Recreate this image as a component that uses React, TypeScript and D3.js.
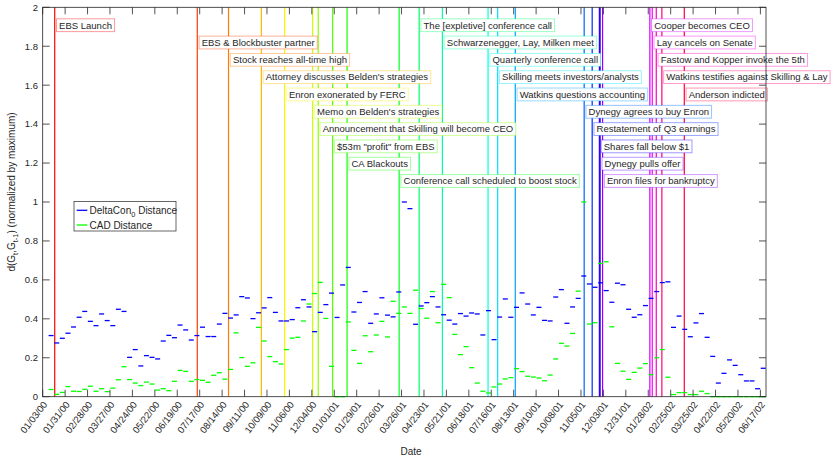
import * as d3 from "d3";
import { useEffect, useRef } from "react";

// weekly distances, first value is the week starting 01/10/00
const deltaCon = [
  0.314, 0.276, 0.3, 0.326, 0.358, 0.408, 0.438, 0.387, 0.365, 0.425,
  0.391, 0.365, 0.449, 0.438, 0.202, 0.242, 0.158, 0.211, 0.202, 0.194,
  0.286, 0.315, 0.303, 0.368, 0.343, 0.291, 0.314, 0.357, 0.309, 0.309,
  0.373, 0.428, 0.404, 0.42, 0.514, 0.507, 0.401, 0.431, 0.456, 0.509,
  0.433, 0.389, 0.389, 0.396, 0.457, 0.498, 0.461, 0.334, 0.433, 0.473,
  0.532, 0.407, 0.574, 0.664, 0.435, 0.484, 0.54, 0.377, 0.425, 0.508,
  0.419, 0.41, 0.538, 1.0, 0.966, 0.372, 0.466, 0.483, 0.514, 0.461,
  0.421, 0.393, 0.373, 0.427, 0.414, 0.43, 0.425, 0.317, 0.442, 0.293,
  0.409, 0.502, 0.408, 0.459, 0.533, 0.476, 0.42, 0.459, 0.392, 0.389,
  0.512, 0.55, 0.377, 0.461, 0.505, 0.62, 0.579, 0.562, 0.585, 0.545,
  0.485, 0.583, 0.575, 0.449, 0.408, 0.421, 0.468, 0.505, 0.54, 0.586,
  0.59, 0.356, 0.414, 0.346, 0.308, 0.379, 0.427, 0.305, 0.207, 0.07,
  0.12, 0.189, 0.161, 0.113, 0.081, 0.081, 0.041, 0.146,
];

const cad = [
  0.037, 0.012, 0.022, 0.052, 0.028, 0.027, 0.038, 0.054, 0.028, 0.041,
  0.026, 0.044, 0.087, 0.154, 0.088, 0.07, 0.057, 0.075, 0.065, 0.034,
  0.041, 0.031, 0.079, 0.135, 0.13, 0.079, 0.088, 0.084, 0.074, 0.11,
  0.123, 0.09, 0.14, 0.328, 0.201, 0.156, 0.174, 0.356, 0.286, 0.206,
  0.18, 0.168, 0.242, 0.301, 0.305, 0.389, 0.476, 0.53, 0.587, 0.402,
  0.156, 0.0, 0.0, 0.384, 0.238, 0.171, 0.313, 0.231, 0.317, 0.387,
  0.307, 0.49, 0.428, 0.461, 0.428, 0.547, 0.453, 0.403, 0.54, 0.38,
  0.577, 0.509, 0.32, 0.216, 0.257, 0.149, 0.07, 0.028, 0.019, 0.05,
  0.065, 0.091, 0.098, 0.144, 0.129, 0.105, 0.101, 0.096, 0.082, 0.111,
  0.194, 0.274, 0.26, 0.325, 0.542, 1.0, 0.373, 0.38, 0.685, 0.693,
  0.359, 0.171, 0.131, 0.089, 0.125, 0.147, 0.17, 0.113, 0.2, 0.242,
  0.1, 0.011, 0.021, 0.021, 0.011, 0.011, 0.028, 0.016, 0, 0,
  0, 0, 0, 0, 0, 0, 0, 0,
];

const xTickLabels = [
  "01/03/00", "01/31/00", "02/28/00", "03/27/00", "04/24/00", "05/22/00",
  "06/19/00", "07/17/00", "08/14/00", "09/11/00", "10/09/00", "11/06/00",
  "12/04/00", "01/01/01", "01/29/01", "02/26/01", "03/26/01", "04/23/01",
  "05/21/01", "06/18/01", "07/16/01", "08/13/01", "09/10/01", "10/08/01",
  "11/05/01", "12/03/01", "12/31/01", "01/28/02", "02/25/02", "03/25/02",
  "04/22/02", "05/20/02", "06/17/02",
];

const yTickLabels = ["0", "0.2", "0.4", "0.6", "0.8", "1", "1.2", "1.4", "1.6", "1.8", "2"];

const eventDates = [
  "01/18/00", "07/14/00", "08/22/00", "10/02/00", "10/31/00", "12/05/00",
  "12/12/00", "12/30/00", "01/17/01", "03/23/01", "04/17/01", "05/16/01",
  "07/12/01", "07/24/01", "08/15/01", "11/09/01", "11/19/01", "11/28/01",
  "11/29/01", "12/02/01", "01/30/02", "02/02/02", "02/07/02", "02/14/02",
  "03/14/02",
];

const eventLabels = [
  "EBS Launch",
  "EBS & Blockbuster partner",
  "Stock reaches all-time high",
  "Attorney discusses Belden's strategies",
  "Enron exonerated by FERC",
  "Memo on Belden's strategies",
  "Announcement that Skilling will become CEO",
  "$53m \"profit\" from EBS",
  "CA Blackouts",
  "Conference call scheduled to boost stock",
  "The [expletive] conference call",
  "Schwarzenegger, Lay, Milken meet",
  "Quarterly conference call",
  "Skilling meets investors/analysts",
  "Watkins questions accounting",
  "Dynegy agrees to buy Enron",
  "Restatement of Q3 earnings",
  "Shares fall below $1",
  "Dynegy pulls offer",
  "Enron files for bankruptcy",
  "Cooper becomes CEO",
  "Lay cancels on Senate",
  "Fastow and Kopper invoke the 5th",
  "Watkins testifies against Skilling & Lay",
  "Anderson indicted",
];

const W = 831;
const H = 465;
const FONT = "'Liberation Sans', Arial, Helvetica, sans-serif";
const AX = "#262626";

const Chart = () => {
  const ref = useRef<SVGSVGElement>(null);

  useEffect(() => {
    if (!ref.current) return;
    const svg = d3.select(ref.current);
    svg.selectAll("*").remove();

    const parse = d3.utcParse("%m/%d/%y");
    const start = parse(xTickLabels[0]) as Date;
    const left = 42.7, right = 766, top = 7.3, bottom = 396.7;

    const x = d3
      .scaleUtc()
      .domain([start, d3.utcDay.offset(start, 7 * (deltaCon.length + 1))])
      .range([left, right]);
    const y = d3.scaleLinear().domain([0, 2]).range([bottom, top]);

    const g = svg.append("g").attr("font-family", FONT);

    // event lines
    const color = (i: number) => d3.hsl((i / eventDates.length) * 360, 1, 0.5).formatHex();
    const evX = eventDates.map((d) => x(parse(d) as Date));

    g.append("g")
      .selectAll("line")
      .data(evX)
      .join("line")
      .attr("x1", (d) => d)
      .attr("x2", (d) => d)
      .attr("y1", y(0))
      .attr("y2", y(2))
      .attr("stroke", (d, i) => color(i))
      .attr("stroke-width", 1.2);

    // weekly dashes
    const dashes = (vals: number[], stroke: string) =>
      g.append("g")
        .selectAll("line")
        .data(vals)
        .join("line")
        .attr("x1", (d, i) => x(d3.utcDay.offset(start, 7 * (i + 1))) + 0.3)
        .attr("x2", (d, i) => x(d3.utcDay.offset(start, 7 * (i + 2))) - 0.3)
        .attr("y1", (d) => y(d))
        .attr("y2", (d) => y(d))
        .attr("stroke", stroke)
        .attr("stroke-width", 1.3);

    dashes(cad, "#00ff00");
    dashes(deltaCon, "#0000ff");

    // event annotation boxes
    eventLabels.forEach((label, i) => {
      const row = i % 10;
      const cy = y(1.908 - row * 0.0889);
      const bx = evX[i] + 1.8;
      const box = g.append("g");
      const rect = box.append("rect");
      const t = box
        .append("text")
        .attr("x", bx + 2.6)
        .attr("y", cy)
        .attr("dy", "0.35em")
        .attr("font-size", 9.5)
        .attr("fill", AX)
        .text(label);
      const w = (t.node() as SVGTextElement).getComputedTextLength();
      rect
        .attr("x", bx)
        .attr("y", cy - 6.4)
        .attr("width", w + 5.2)
        .attr("height", 12.8)
        .attr("fill", "white")
        .attr("stroke", color(i))
        .attr("stroke-opacity", 0.4)
        .attr("stroke-width", 1);
    });

    // legend
    const lg = g.append("g");
    lg.append("rect")
      .attr("x", 74)
      .attr("y", 201.5)
      .attr("width", 102)
      .attr("height", 29.5)
      .attr("fill", "white")
      .attr("stroke", AX)
      .attr("stroke-width", 0.7);
    [
      { c: "#0000ff", yy: 210.3 },
      { c: "#00ff00", yy: 225 },
    ].forEach((d) =>
      lg.append("line")
        .attr("x1", 76.7)
        .attr("x2", 87.3)
        .attr("y1", d.yy)
        .attr("y2", d.yy)
        .attr("stroke", d.c)
        .attr("stroke-width", 1.3)
    );
    const l1 = lg.append("text").attr("x", 89.5).attr("y", 210.3).attr("dy", "0.35em").attr("font-size", 10).attr("fill", AX);
    l1.append("tspan").text("DeltaCon");
    l1.append("tspan").attr("font-size", 7.5).attr("dy", 3).text("0");
    l1.append("tspan").attr("dy", -3).text(" Distance");
    lg.append("text").attr("x", 89.5).attr("y", 225).attr("dy", "0.35em").attr("font-size", 10).attr("fill", AX).text("CAD Distance");

    // axes box
    const ax = g.append("g").attr("stroke", AX).attr("stroke-width", 0.8);
    ax.append("rect")
      .attr("x", left)
      .attr("y", top)
      .attr("width", right - left)
      .attr("height", bottom - top)
      .attr("fill", "none");

    const tickDates = xTickLabels.map((s) => parse(s) as Date);
    const tl = 7;
    tickDates.forEach((d) => {
      const xx = x(d);
      ax.append("line").attr("x1", xx).attr("x2", xx).attr("y1", bottom).attr("y2", bottom - tl);
      ax.append("line").attr("x1", xx).attr("x2", xx).attr("y1", top).attr("y2", top + tl);
    });
    yTickLabels.forEach((s) => {
      const yy = y(+s);
      ax.append("line").attr("x1", left).attr("x2", left + tl).attr("y1", yy).attr("y2", yy);
      ax.append("line").attr("x1", right).attr("x2", right - tl).attr("y1", yy).attr("y2", yy);
    });

    g.append("g")
      .selectAll("text")
      .data(yTickLabels)
      .join("text")
      .attr("x", 38)
      .attr("y", (d) => y(+d))
      .attr("dy", "0.35em")
      .attr("text-anchor", "end")
      .attr("font-size", 9.5)
      .attr("fill", AX)
      .text((d) => d);

    g.append("g")
      .selectAll("text")
      .data(xTickLabels)
      .join("text")
      .attr("transform", (d, i) => `translate(${x(tickDates[i]) + 2.5},${bottom + 6}) rotate(-52)`)
      .attr("dy", "0.35em")
      .attr("text-anchor", "end")
      .attr("font-size", 9.5)
      .attr("fill", AX)
      .text((d) => d);

    // axis titles
    g.append("text")
      .attr("x", 411)
      .attr("y", 455)
      .attr("text-anchor", "middle")
      .attr("font-size", 10)
      .attr("fill", AX)
      .text("Date");

    const yl = g.append("text")
      .attr("transform", `translate(14.5,${(top + bottom) / 2 - 10}) rotate(-90)`)
      .attr("text-anchor", "middle")
      .attr("font-size", 10)
      .attr("fill", AX);
    yl.append("tspan").text("d(G");
    yl.append("tspan").attr("font-size", 7.5).attr("dy", 3).text("t");
    yl.append("tspan").attr("dy", -3).text(",G");
    yl.append("tspan").attr("font-size", 7.5).attr("dy", 3).text("t-1");
    yl.append("tspan").attr("dy", -3).text(") (normalized by maximum)");
  }, []);

  return (
    <svg
      ref={ref}
      width={W}
      height={H}
      style={{ position: "absolute", left: 0, top: 0, background: "white" }}
    />
  );
};

export default function App() {
  return <Chart />;
}
